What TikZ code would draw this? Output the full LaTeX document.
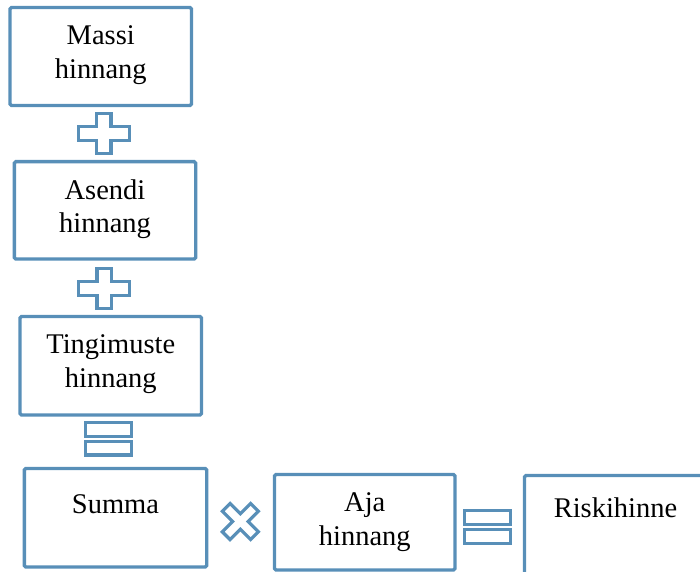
\documentclass[tikz,border=0pt]{standalone}
\usepackage{fontspec}
\setmainfont{Liberation Serif}
\definecolor{boxblue}{RGB}{88,143,184}
\tikzset{
  block/.style={draw=boxblue, line width=3.4pt, rounded corners=1.5pt,
    inner sep=0pt, outer sep=0pt},
  label text/.style={anchor=north, align=center, inner sep=0pt,
    font=\fontsize{28.5}{33.5}\selectfont},
  sign/.style={draw=boxblue, line width=3.2pt},
  pics/plussign/.style={code={
    \draw[sign] (-7.3,-20.2) -- (7.3,-20.2) -- (7.3,-6.8) -- (25.5,-6.8)
      -- (25.5,6.8) -- (7.3,6.8) -- (7.3,20.2) -- (-7.3,20.2) -- (-7.3,6.8)
      -- (-25.5,6.8) -- (-25.5,-6.8) -- (-7.3,-6.8) -- cycle;}},
  pics/timessign/.style={code={
    \draw[sign, rotate=45] (-5.5,-20) -- (5.5,-20) -- (5.5,-5.5) -- (20,-5.5)
      -- (20,5.5) -- (5.5,5.5) -- (5.5,20) -- (-5.5,20) -- (-5.5,5.5)
      -- (-20,5.5) -- (-20,-5.5) -- (-5.5,-5.5) -- cycle;}},
  pics/eqsign/.style={code={
    \draw[sign] (-23,-16.3) rectangle (23,-2.4);
    \draw[sign] (-23,2.4) rectangle (23,16.3);}},
}

\begin{document}
\begin{tikzpicture}[x=1pt, y=-1pt]
    \useasboundingbox (0,0) rectangle (700,571);
    \clip (0,0) rectangle (700,571);
% Boxes
    \node[block, minimum width=181.5, minimum height=98] (massi) at (100.75,56.5) {};
    \node[block, minimum width=181.4, minimum height=97.3] (asendi) at (105,210.3) {};
    \node[block, minimum width=181.5, minimum height=98.5] (tingimuste) at (110.75,365.75) {};
    \node[block, minimum width=182.4, minimum height=98.5] (summa) at (115.5,517.75) {};
    \node[block, minimum width=180.5, minimum height=95.5] (aja) at (364.75,522.25) {};
    \node[block, minimum width=182, minimum height=104] (riski) at (615.5,527.5) {};
% Texts
    \node[label text] (massi-t) at ([yshift=-18pt]massi.north) {Massi\\hinnang};
    \node[label text] (asendi-t) at ([yshift=-17.6pt]asendi.north) {Asendi\\hinnang};
    \node[label text] (tingimuste-t) at ([yshift=-18.3pt]tingimuste.north) {Tingimuste\\hinnang};
    \node[label text] (summa-t) at ([yshift=-26pt]summa.north) {Summa};
    \node[label text] (aja-t) at ([yshift=-18pt]aja.north) {Aja\\hinnang};
    \node[label text] (riski-t) at ([yshift=-22.5pt]riski.north) {Riskihinne};
% Signs
    \pic at (103.7,133.3) {plussign};
    \pic at (104.2,288.3) {plussign};
    \pic at (108.7,438.7) {eqsign};
    \pic at (240.3,521.5) {timessign};
    \pic at (487.2,527) {eqsign};
\end{tikzpicture}
\end{document}
